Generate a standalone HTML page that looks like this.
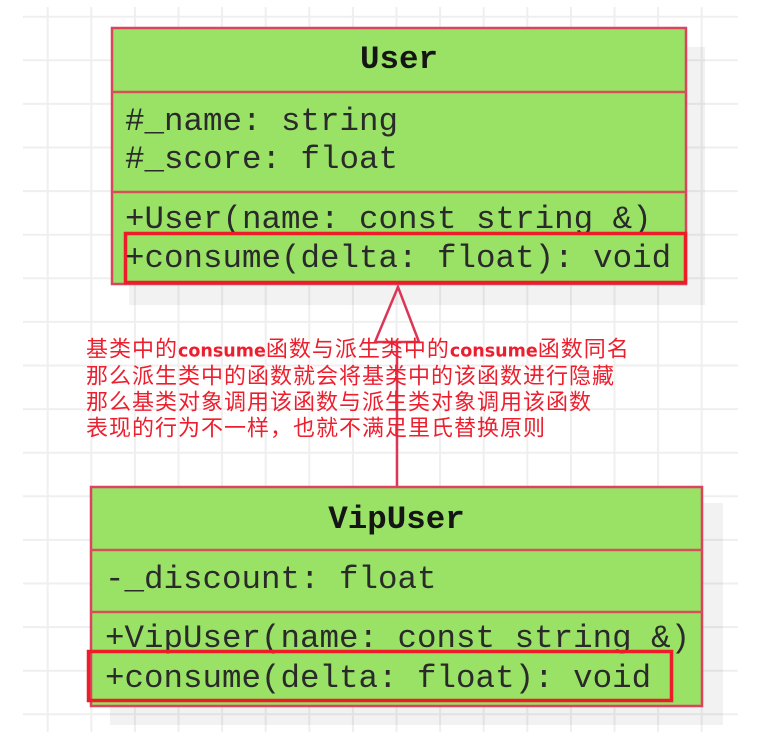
<!DOCTYPE html>
<html>
<head>
<meta charset="utf-8">
<style>
  html, body { margin: 0; padding: 0; background: #ffffff; }
  body { width: 765px; height: 732px; overflow: hidden; }
  svg { display: block; }
  .mono { font-family: "Liberation Mono", "DejaVu Sans Mono", monospace; font-size: 32.5px; fill: #2a2a2a; }
  .title { font-family: "Liberation Mono", "DejaVu Sans Mono", monospace; font-size: 32.5px; font-weight: bold; fill: #151515; }
  .cn { font-family: "Noto Sans CJK SC", "WenQuanYi Zen Hei", sans-serif; font-size: 22px; fill: #ec1f2e; letter-spacing: 1px; }
  .en { font-family: "DejaVu Sans", "Liberation Sans", sans-serif; font-weight: bold; font-size: 17.5px; letter-spacing: 0px; }
</style>
</head>
<body>
<svg width="765" height="732" viewBox="0 0 765 732" xmlns="http://www.w3.org/2000/svg">
  <!-- grid -->
  <g stroke="#efefef" stroke-width="2">
    <line x1="47.7" y1="7" x2="47.7" y2="732"/>
    <line x1="91.3" y1="7" x2="91.3" y2="732"/>
    <line x1="134.9" y1="7" x2="134.9" y2="732"/>
    <line x1="178.5" y1="7" x2="178.5" y2="732"/>
    <line x1="222.1" y1="7" x2="222.1" y2="732"/>
    <line x1="265.7" y1="7" x2="265.7" y2="732"/>
    <line x1="309.3" y1="7" x2="309.3" y2="732"/>
    <line x1="352.9" y1="7" x2="352.9" y2="732"/>
    <line x1="396.5" y1="7" x2="396.5" y2="732"/>
    <line x1="440.1" y1="7" x2="440.1" y2="732"/>
    <line x1="483.7" y1="7" x2="483.7" y2="732"/>
    <line x1="527.3" y1="7" x2="527.3" y2="732"/>
    <line x1="570.9" y1="7" x2="570.9" y2="732"/>
    <line x1="614.5" y1="7" x2="614.5" y2="732"/>
    <line x1="658.1" y1="7" x2="658.1" y2="732"/>
    <line x1="701.7" y1="7" x2="701.7" y2="732"/>

    <line x1="23" y1="16.7" x2="738" y2="16.7"/>
    <line x1="23" y1="60.3" x2="738" y2="60.3"/>
    <line x1="23" y1="103.9" x2="738" y2="103.9"/>
    <line x1="23" y1="147.5" x2="738" y2="147.5"/>
    <line x1="23" y1="191.1" x2="738" y2="191.1"/>
    <line x1="23" y1="234.7" x2="738" y2="234.7"/>
    <line x1="23" y1="278.3" x2="738" y2="278.3"/>
    <line x1="23" y1="321.9" x2="738" y2="321.9"/>
    <line x1="23" y1="365.5" x2="738" y2="365.5"/>
    <line x1="23" y1="409.1" x2="738" y2="409.1"/>
    <line x1="23" y1="452.7" x2="738" y2="452.7"/>
    <line x1="23" y1="496.3" x2="738" y2="496.3"/>
    <line x1="23" y1="539.9" x2="738" y2="539.9"/>
    <line x1="23" y1="583.5" x2="738" y2="583.5"/>
    <line x1="23" y1="627.1" x2="738" y2="627.1"/>
    <line x1="23" y1="670.7" x2="738" y2="670.7"/>
    <line x1="23" y1="714.3" x2="738" y2="714.3"/>
  </g>

  <!-- shadows -->
  <rect x="129" y="47" width="576" height="258" fill="#000" fill-opacity="0.05"/>
  <rect x="110" y="503" width="613" height="222" fill="#000" fill-opacity="0.05"/>

  <!-- User class -->
  <rect x="112" y="28" width="574" height="256" fill="#99e266" stroke="#dc4360" stroke-width="2.5"/>
  <line x1="112" y1="92" x2="686" y2="92" stroke="#d4515a" stroke-width="2.5"/>
  <line x1="112" y1="192" x2="686" y2="192" stroke="#d4515a" stroke-width="2.5"/>
  <text class="title" x="399" y="68" text-anchor="middle">User</text>
  <text class="mono" x="125" y="130">#_name: string</text>
  <text class="mono" x="125" y="168">#_score: float</text>
  <text class="mono" x="125" y="228">+User(name: const string &amp;)</text>
  <text class="mono" x="125" y="267">+consume(delta: float): void</text>
  <rect x="125.5" y="233.5" width="560" height="49" fill="none" stroke="#ec1c28" stroke-width="3.5"/>

  <!-- connector (generalization) -->
  <line x1="397" y1="342" x2="397" y2="486" stroke="#dc3555" stroke-width="2.5"/>
  <polygon points="398,287 375,342 419,342" fill="none" stroke="#dc3555" stroke-width="2.5" stroke-linejoin="miter"/>

  <!-- VipUser class -->
  <rect x="91" y="487" width="611" height="219" fill="#99e266" stroke="#dc4360" stroke-width="2.5"/>
  <line x1="91" y1="550" x2="702" y2="550" stroke="#d4515a" stroke-width="2.5"/>
  <line x1="91" y1="612" x2="702" y2="612" stroke="#d4515a" stroke-width="2.5"/>
  <text class="title" x="396.5" y="528" text-anchor="middle">VipUser</text>
  <text class="mono" x="105" y="588">-_discount: float</text>
  <text class="mono" x="105" y="647">+VipUser(name: const string &amp;)</text>
  <text class="mono" x="105" y="687">+consume(delta: float): void</text>
  <rect x="88.5" y="651.5" width="583" height="49" fill="none" stroke="#ec1c28" stroke-width="3.5"/>

  <!-- annotation text -->
  <text class="cn" x="86" y="356.5">基类中的<tspan class="en">consume</tspan>函数与派生类中的<tspan class="en">consume</tspan>函数同名</text>
  <text class="cn" x="86" y="383.5">那么派生类中的函数就会将基类中的该函数进行隐藏</text>
  <text class="cn" x="86" y="409.5">那么基类对象调用该函数与派生类对象调用该函数</text>
  <text class="cn" x="86" y="435.5">表现的行为不一样，也就不满足里氏替换原则</text>
</svg>
</body>
</html>
